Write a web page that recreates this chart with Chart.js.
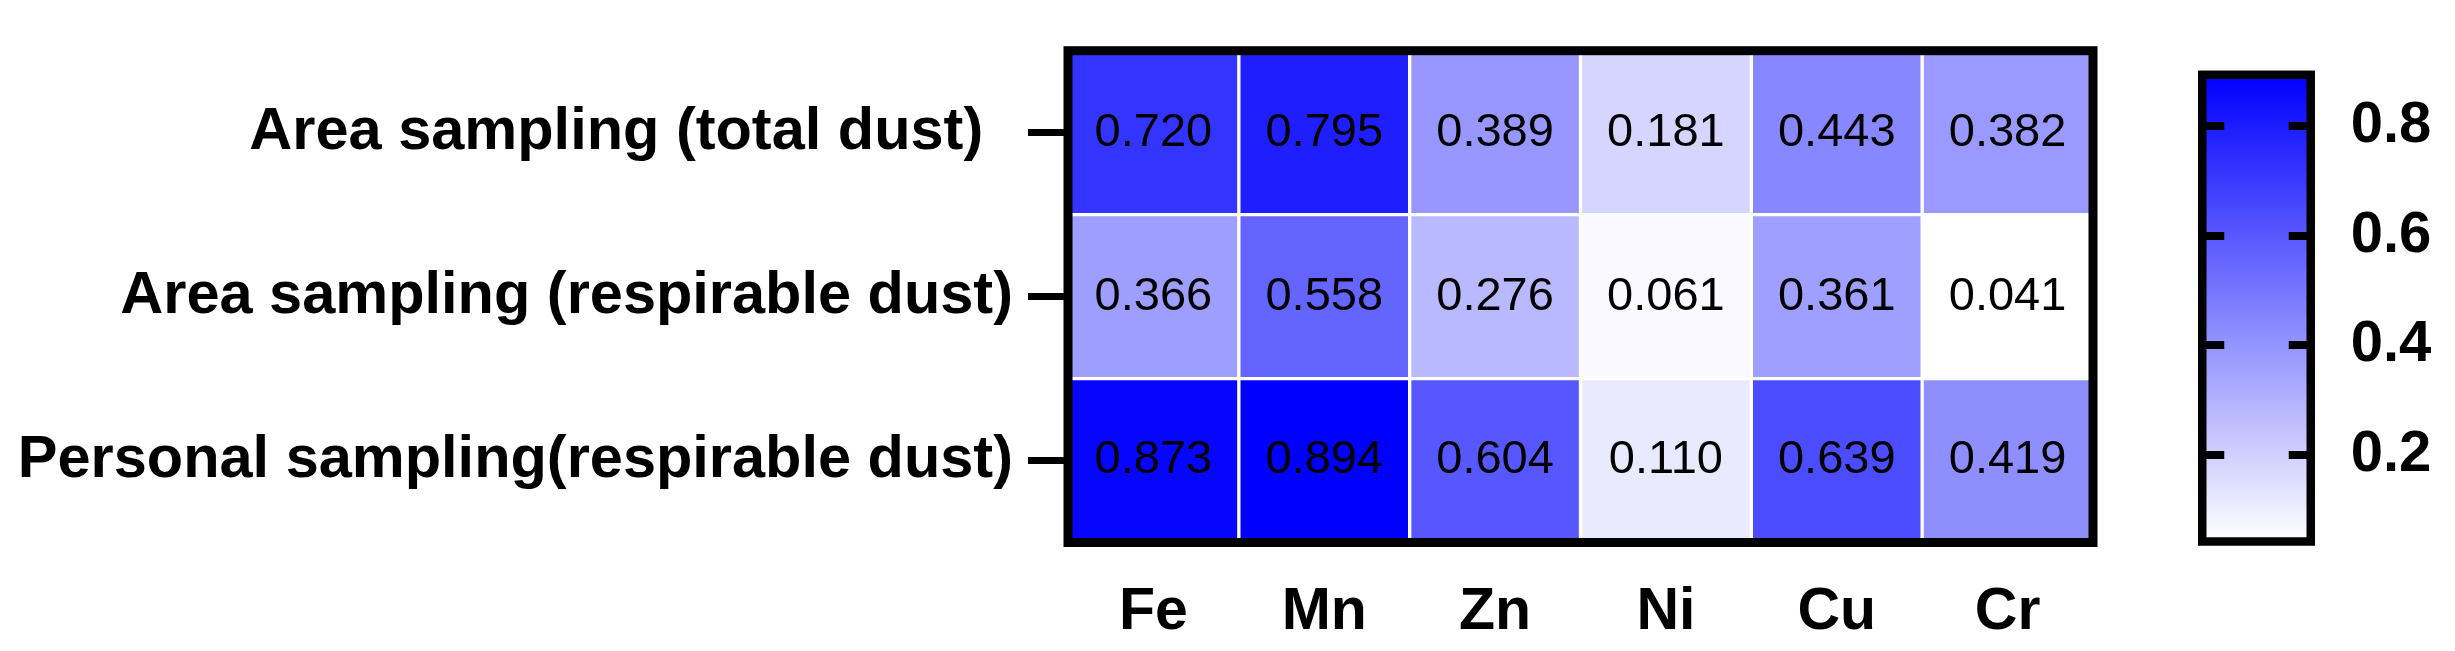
<!DOCTYPE html>
<html>
<head>
<meta charset="utf-8">
<script src="https://cdn.jsdelivr.net/npm/chart.js@4/dist/chart.umd.min.js"></script>
<style>
  html, body { margin: 0; padding: 0; background: #ffffff; }
  #wrap { position: relative; width: 2455px; height: 651px; }
  canvas { position: absolute; left: 0; top: 0; }
</style>
</head>
<body>
<div id="wrap">
  <canvas id="heat" width="2455" height="651"></canvas>
  <canvas id="bar" width="2455" height="651"></canvas>
</div>
<script>
// ---- data ----
const elements = ['Fe', 'Mn', 'Zn', 'Ni', 'Cu', 'Cr'];
const rowLabels = ['Area sampling (total dust)\u2002', 'Area sampling (respirable dust)', 'Personal sampling(respirable dust)'];
const areaTotalDust = [0.720, 0.795, 0.389, 0.181, 0.443, 0.382];
const areaRespirableDust = [0.366, 0.558, 0.276, 0.061, 0.361, 0.041];
const personalRespirableDust = [0.873, 0.894, 0.604, 0.110, 0.639, 0.419];
const colorbarTicks = [0.2, 0.4, 0.6, 0.8];

const rowValues = [areaTotalDust, areaRespirableDust, personalRespirableDust];
const allVals = rowValues.flat();
const vMin = Math.min(...allVals);
const vMax = Math.max(...allVals);

function colorFor(v) {
  const t = (v - vMin) / (vMax - vMin);
  const c = Math.round(255 * (1 - t));
  return `rgb(${c},${c},255)`;
}

const FONT = "'Liberation Sans', Arial, sans-serif";

const framePlugin = (lw) => ({
  id: 'frame',
  afterDraw(chart) {
    const a = chart.chartArea;
    const ctx = chart.ctx;
    ctx.save();
    ctx.strokeStyle = '#000';
    ctx.lineWidth = lw;
    ctx.strokeRect(a.left, a.top, a.right - a.left, a.bottom - a.top);
    ctx.restore();
  }
});

const valueLabels = {
  id: 'valueLabels',
  afterDatasetsDraw(chart) {
    const ctx = chart.ctx;
    ctx.save();
    ctx.fillStyle = '#000';
    ctx.font = `47px ${FONT}`;
    ctx.textAlign = 'center';
    ctx.textBaseline = 'middle';
    chart.data.datasets.forEach((ds, i) => {
      const meta = chart.getDatasetMeta(i);
      meta.data.forEach((el, j) => {
        const v = rowValues[i][j];
        ctx.fillText(v.toFixed(3), el.x, (el.y + el.base) / 2);
      });
    });
    ctx.restore();
  }
};

const L = 1068, R = 2093, T = 29.5, B = 542.5;

new Chart(document.getElementById('heat'), {
  type: 'bar',
  data: {
    labels: elements,
    datasets: rowValues.map((vals, i) => ({
      label: rowLabels[i],
      data: vals.map(() => [i - 0.5, i + 0.5]),
      backgroundColor: vals.map(colorFor),
      borderColor: '#ffffff',
      borderWidth: 2,
      borderSkipped: false,
      categoryPercentage: 1,
      barPercentage: 1
    }))
  },
  options: {
    responsive: false,
    animation: false,
    devicePixelRatio: 1,
    layout: { padding: { left: 0, top: T, right: 2455 - R, bottom: 0 } },
    plugins: { legend: { display: false }, tooltip: { enabled: false } },
    datasets: { bar: { grouped: false } },
    scales: {
      x: {
        type: 'category',
        grid: { display: false },
        border: { display: false },
        ticks: { color: '#000', font: { family: FONT, size: 59, weight: 'bold' }, padding: 27, maxRotation: 0, autoSkip: false },
        afterFit(scale) { scale.height = 651 - B; }
      },
      y: {
        type: 'linear',
        reverse: true,
        min: -0.5,
        max: 2.5,
        afterBuildTicks(scale) { scale.ticks = rowLabels.map((_, i) => ({ value: i })); },
        grid: { drawOnChartArea: false, drawTicks: true, tickLength: 40, tickWidth: 7, tickColor: '#000' },
        border: { display: false },
        ticks: {
          color: '#000',
          font: { family: FONT, size: 59.5, weight: 'bold' },
          padding: 15,
          autoSkip: false,
          callback: (v) => rowLabels[v]
        },
        afterFit(scale) { scale.width = L; }
      }
    }
  },
  plugins: [valueLabels, framePlugin(9)]
});

// ---- colour bar ----
const CL = 2202.25, CR = 2310.75, CT = 29.5, CB = 541.5;
const TICK_IN = 22;
new Chart(document.getElementById('bar'), {
  type: 'bar',
  data: {
    labels: [''],
    datasets: [{
      data: [[vMin, vMax]],
      backgroundColor: (ctx) => {
        const ch = ctx.chart;
        const a = ch.chartArea;
        if (!a) return 'rgb(0,0,255)';
        const g = ch.ctx.createLinearGradient(0, a.bottom, 0, a.top);
        g.addColorStop(0, colorFor(vMin));
        g.addColorStop(1, colorFor(vMax));
        return g;
      },
      borderWidth: 0,
      categoryPercentage: 1,
      barPercentage: 1
    }]
  },
  options: {
    responsive: false,
    animation: false,
    devicePixelRatio: 1,
    layout: { padding: { left: CL, top: CT, right: 0, bottom: 651 - CB } },
    plugins: { legend: { display: false }, tooltip: { enabled: false } },
    scales: {
      x: { display: false },
      y: {
        type: 'linear',
        position: 'right',
        min: vMin,
        max: vMax,
        afterBuildTicks(scale) { scale.ticks = colorbarTicks.map(v => ({ value: v })); },
        grid: { z: 1, drawOnChartArea: true, drawTicks: false, color: '#000', lineWidth: 8 },
        border: { display: false, dash: [TICK_IN, CR - CL - 2 * TICK_IN, TICK_IN] },
        ticks: {
          color: '#000',
          font: { family: FONT, size: 58, weight: 'bold' },
          padding: 40,
          autoSkip: false,
          callback: (v) => Number(v).toFixed(1)
        },
        afterFit(scale) { scale.width = 2455 - CR; }
      }
    }
  },
  plugins: [framePlugin(8.5)]
});
</script>
</body>
</html>
